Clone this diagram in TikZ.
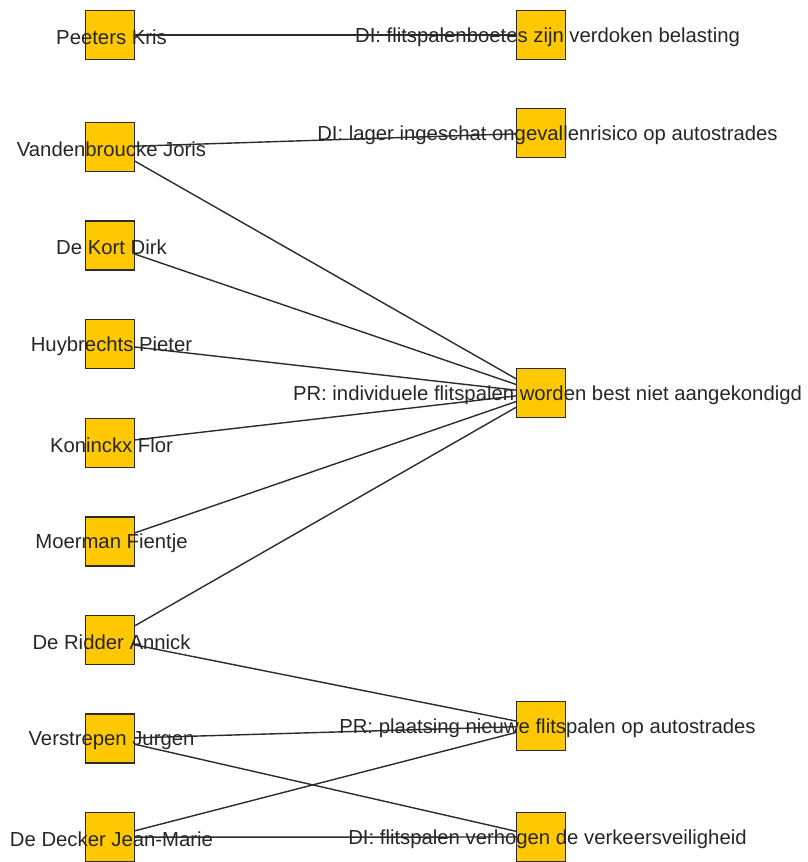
\documentclass[tikz,border=0pt]{standalone}
\usepackage{fontspec}
\setmainfont{Liberation Sans}
\usepackage{xcolor}
\definecolor{cFill}{HTML}{FFC800}
\definecolor{cLine}{HTML}{2B2B2B}
\definecolor{cText}{HTML}{262626}
\usetikzlibrary{positioning}
\tikzset{
  node-sq/.style={draw=cLine,line width=1.4pt,fill=cFill,minimum size=49pt,
    inner sep=0pt,outer sep=0pt},
  node-name/.style={font=\fontsize{20.3}{23}\selectfont,text=cText,inner sep=0pt,
    yshift=-2pt,xshift=1.5pt},
  node-claim/.style={node-name,xshift=5pt},
  link/.style={draw=cLine,line width=1.4pt},
}

\begin{document}
\begin{tikzpicture}[x=1pt,y=-1pt,node distance=49.6pt]
  \useasboundingbox (0,0) rectangle (808,862);
  % personen
  \node[node-sq,label={[node-name]center:Peeters Kris}]                          (peeters) at (110,35) {};
  \node[node-sq,below=63pt of peeters,label={[node-name]center:Vandenbroucke Joris}] (vandenbroucke) {};
  \node[node-sq,below=of vandenbroucke,label={[node-name]center:De Kort Dirk}]      (dekort) {};
  \node[node-sq,below=of dekort,label={[node-name]center:Huybrechts Pieter}]        (huybrechts) {};
  \node[node-sq,below=of huybrechts,label={[node-name]center:Koninckx Flor}]        (koninckx) {};
  \node[node-sq,below=of koninckx,label={[node-name]center:Moerman Fientje}]        (moerman) {};
  \node[node-sq,below=of moerman,label={[node-name]center:De Ridder Annick}]        (deridder) {};
  \node[node-sq,below=of deridder,label={[node-name]center:Verstrepen Jurgen}]      (verstrepen) {};
  \node[node-sq,below=of verstrepen,label={[node-name]center:De Decker Jean-Marie}] (dedecker) {};
  % standpunten
  \node[node-sq,label={[node-claim]center:DI: flitspalenboetes zijn verdoken belasting}]          (boetes)    at (541,35) {};
  \node[node-sq,label={[node-claim]center:DI: lager ingeschat ongevallenrisico op autostrades}]   (risico)    at (541,133) {};
  \node[node-sq,label={[node-claim]center:PR: individuele flitspalen worden best niet aangekondigd}] (aankondig) at (541,393) {};
  \node[node-sq,label={[node-claim]center:PR: plaatsing nieuwe flitspalen op autostrades}]        (plaatsing) at (541,726) {};
  \node[node-sq,label={[node-claim]center:DI: flitspalen verhogen de verkeersveiligheid}]         (veiligheid) at (541,837) {};
  % verbindingen
  \draw[link] (peeters) -- (boetes);
  \draw[link] (vandenbroucke) -- (risico);
  \foreach \p in {vandenbroucke,dekort,huybrechts,koninckx,moerman,deridder}
    \draw[link] (\p) -- (aankondig);
  \draw[link] (deridder) -- (plaatsing);
  \draw[link] (verstrepen) -- (plaatsing);
  \draw[link] (verstrepen) -- (veiligheid);
  \draw[link] (dedecker) -- (plaatsing);
  \draw[link] (dedecker) -- (veiligheid);
\end{tikzpicture}
\end{document}
